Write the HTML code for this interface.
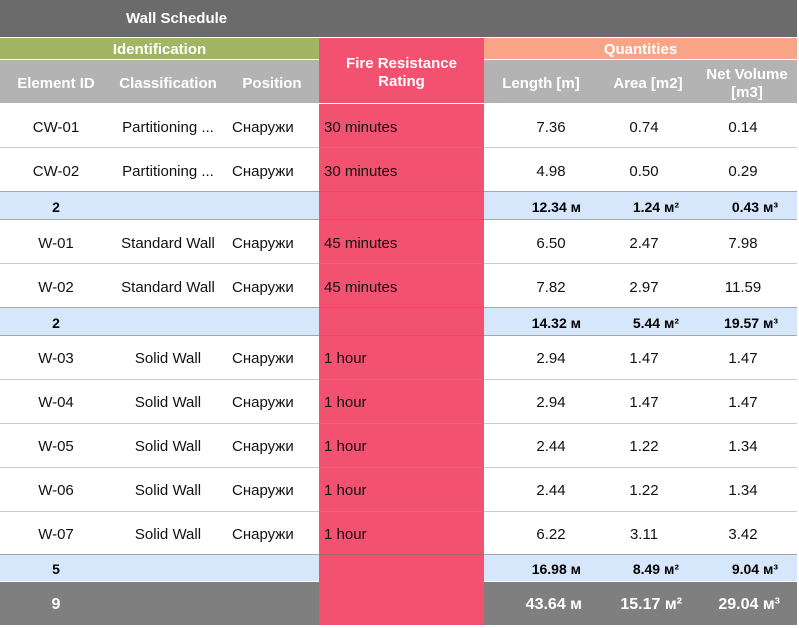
<!DOCTYPE html>
<html><head><meta charset="utf-8">
<style>
html,body{margin:0;padding:0;background:#fff;}
body{width:799px;height:628px;position:relative;overflow:hidden;font-family:"Liberation Sans",Arial,sans-serif;}
.b{position:absolute;}
.t{position:absolute;white-space:nowrap;color:#111;font-size:15px;}
.c{text-align:center;}
.r{text-align:right;}
.h{color:#fff;font-weight:bold;font-size:15px;text-align:center;}
.ln{position:absolute;left:0;width:797px;height:1px;}
.lg{background:rgba(150,150,150,0.5);}
.ld{background:rgba(120,120,120,0.65);}
.s{font-weight:bold;font-size:14px;color:#000;}
.g{font-weight:bold;font-size:16px;color:#fff;}
</style></head><body>
<!-- title -->
<div class="b" style="left:0;top:0;width:797px;height:37px;background:#6b6b6b;"></div>
<div class="t h" style="left:126px;top:10px;line-height:18px;">Wall Schedule</div>

<!-- group headers -->
<div class="b" style="left:0;top:38px;width:319px;height:21px;background:#a3b465;"></div>
<div class="b" style="left:484px;top:38px;width:313px;height:21px;background:#f7a487;"></div>
<div class="b" style="left:319px;top:38px;width:165px;height:65px;background:#f2526f;"></div>
<div class="t h" style="left:0;width:319px;top:41px;line-height:18px;">Identification</div>
<div class="t h" style="left:484px;width:313px;top:41px;line-height:18px;">Quantities</div>

<!-- column header -->
<div class="b" style="left:0;top:60px;width:319px;height:43px;background:#b3b3b3;"></div>
<div class="b" style="left:484px;top:60px;width:313px;height:43px;background:#b3b3b3;"></div>
<div class="t h" style="left:0;width:112px;top:75px;line-height:18px;">Element ID</div>
<div class="t h" style="left:112px;width:112px;top:75px;line-height:18px;">Classification</div>
<div class="t h" style="left:225px;width:94px;top:75px;line-height:18px;">Position</div>
<div class="t h" style="left:319px;width:165px;top:55px;line-height:18px;">Fire Resistance<br>Rating</div>
<div class="t h" style="left:484px;width:114px;top:75px;line-height:18px;">Length [m]</div>
<div class="t h" style="left:598px;width:100px;top:75px;line-height:18px;">Area [m2]</div>
<div class="t h" style="left:698px;width:98px;top:66px;line-height:18px;">Net Volume<br>[m3]</div>

<!-- body backgrounds -->
<div class="b" style="left:319px;top:104px;width:165px;height:521px;background:#f2526f;"></div>
<div class="b" style="left:0;top:192px;width:319px;height:27px;background:#d7e7fb;"></div>
<div class="b" style="left:484px;top:192px;width:313px;height:27px;background:#d7e7fb;"></div>
<div class="b" style="left:0;top:308px;width:319px;height:27px;background:#d7e7fb;"></div>
<div class="b" style="left:484px;top:308px;width:313px;height:27px;background:#d7e7fb;"></div>
<div class="b" style="left:0;top:555px;width:319px;height:26px;background:#d7e7fb;"></div>
<div class="b" style="left:484px;top:555px;width:313px;height:26px;background:#d7e7fb;"></div>
<div class="b" style="left:0;top:582px;width:319px;height:43px;background:#7f7f7f;"></div>
<div class="b" style="left:484px;top:582px;width:313px;height:43px;background:#7f7f7f;"></div>

<!-- lines -->
<div class="ln lg" style="top:147px;"></div>
<div class="ln ld" style="top:191px;"></div>
<div class="ln ld" style="top:219px;"></div>
<div class="ln lg" style="top:263px;"></div>
<div class="ln ld" style="top:307px;"></div>
<div class="ln ld" style="top:335px;"></div>
<div class="ln lg" style="top:379px;"></div>
<div class="ln lg" style="top:423px;"></div>
<div class="ln lg" style="top:467px;"></div>
<div class="ln lg" style="top:511px;"></div>
<div class="ln ld" style="top:554px;"></div>

<div class="t c" style="left:0;width:112px;top:119px;line-height:18px;">CW-01</div>
<div class="t c" style="left:112px;width:112px;top:119px;line-height:18px;">Partitioning ...</div>
<div class="t" style="left:232px;top:119px;line-height:18px;">Снаружи</div>
<div class="t" style="left:324px;top:119px;line-height:18px;">30 minutes</div>
<div class="t c" style="left:501px;width:100px;top:119px;line-height:18px;">7.36</div>
<div class="t c" style="left:594px;width:100px;top:119px;line-height:18px;">0.74</div>
<div class="t c" style="left:693px;width:100px;top:119px;line-height:18px;">0.14</div>

<div class="t c" style="left:0;width:112px;top:163px;line-height:18px;">CW-02</div>
<div class="t c" style="left:112px;width:112px;top:163px;line-height:18px;">Partitioning ...</div>
<div class="t" style="left:232px;top:163px;line-height:18px;">Снаружи</div>
<div class="t" style="left:324px;top:163px;line-height:18px;">30 minutes</div>
<div class="t c" style="left:501px;width:100px;top:163px;line-height:18px;">4.98</div>
<div class="t c" style="left:594px;width:100px;top:163px;line-height:18px;">0.50</div>
<div class="t c" style="left:693px;width:100px;top:163px;line-height:18px;">0.29</div>

<div class="t c s" style="left:0;width:112px;top:198px;line-height:18px;">2</div>
<div class="t r s" style="left:481px;width:100px;top:198px;line-height:18px;">12.34 м</div>
<div class="t r s" style="left:579px;width:100px;top:198px;line-height:18px;">1.24 м²</div>
<div class="t r s" style="left:678px;width:100px;top:198px;line-height:18px;">0.43 м³</div>

<div class="t c" style="left:0;width:112px;top:235px;line-height:18px;">W-01</div>
<div class="t c" style="left:112px;width:112px;top:235px;line-height:18px;">Standard Wall</div>
<div class="t" style="left:232px;top:235px;line-height:18px;">Снаружи</div>
<div class="t" style="left:324px;top:235px;line-height:18px;">45 minutes</div>
<div class="t c" style="left:501px;width:100px;top:235px;line-height:18px;">6.50</div>
<div class="t c" style="left:594px;width:100px;top:235px;line-height:18px;">2.47</div>
<div class="t c" style="left:693px;width:100px;top:235px;line-height:18px;">7.98</div>

<div class="t c" style="left:0;width:112px;top:279px;line-height:18px;">W-02</div>
<div class="t c" style="left:112px;width:112px;top:279px;line-height:18px;">Standard Wall</div>
<div class="t" style="left:232px;top:279px;line-height:18px;">Снаружи</div>
<div class="t" style="left:324px;top:279px;line-height:18px;">45 minutes</div>
<div class="t c" style="left:501px;width:100px;top:279px;line-height:18px;">7.82</div>
<div class="t c" style="left:594px;width:100px;top:279px;line-height:18px;">2.97</div>
<div class="t c" style="left:693px;width:100px;top:279px;line-height:18px;">11.59</div>

<div class="t c s" style="left:0;width:112px;top:314px;line-height:18px;">2</div>
<div class="t r s" style="left:481px;width:100px;top:314px;line-height:18px;">14.32 м</div>
<div class="t r s" style="left:579px;width:100px;top:314px;line-height:18px;">5.44 м²</div>
<div class="t r s" style="left:678px;width:100px;top:314px;line-height:18px;">19.57 м³</div>

<div class="t c" style="left:0;width:112px;top:350px;line-height:18px;">W-03</div>
<div class="t c" style="left:112px;width:112px;top:350px;line-height:18px;">Solid Wall</div>
<div class="t" style="left:232px;top:350px;line-height:18px;">Снаружи</div>
<div class="t" style="left:324px;top:350px;line-height:18px;">1 hour</div>
<div class="t c" style="left:501px;width:100px;top:350px;line-height:18px;">2.94</div>
<div class="t c" style="left:594px;width:100px;top:350px;line-height:18px;">1.47</div>
<div class="t c" style="left:693px;width:100px;top:350px;line-height:18px;">1.47</div>

<div class="t c" style="left:0;width:112px;top:394px;line-height:18px;">W-04</div>
<div class="t c" style="left:112px;width:112px;top:394px;line-height:18px;">Solid Wall</div>
<div class="t" style="left:232px;top:394px;line-height:18px;">Снаружи</div>
<div class="t" style="left:324px;top:394px;line-height:18px;">1 hour</div>
<div class="t c" style="left:501px;width:100px;top:394px;line-height:18px;">2.94</div>
<div class="t c" style="left:594px;width:100px;top:394px;line-height:18px;">1.47</div>
<div class="t c" style="left:693px;width:100px;top:394px;line-height:18px;">1.47</div>

<div class="t c" style="left:0;width:112px;top:438px;line-height:18px;">W-05</div>
<div class="t c" style="left:112px;width:112px;top:438px;line-height:18px;">Solid Wall</div>
<div class="t" style="left:232px;top:438px;line-height:18px;">Снаружи</div>
<div class="t" style="left:324px;top:438px;line-height:18px;">1 hour</div>
<div class="t c" style="left:501px;width:100px;top:438px;line-height:18px;">2.44</div>
<div class="t c" style="left:594px;width:100px;top:438px;line-height:18px;">1.22</div>
<div class="t c" style="left:693px;width:100px;top:438px;line-height:18px;">1.34</div>

<div class="t c" style="left:0;width:112px;top:482px;line-height:18px;">W-06</div>
<div class="t c" style="left:112px;width:112px;top:482px;line-height:18px;">Solid Wall</div>
<div class="t" style="left:232px;top:482px;line-height:18px;">Снаружи</div>
<div class="t" style="left:324px;top:482px;line-height:18px;">1 hour</div>
<div class="t c" style="left:501px;width:100px;top:482px;line-height:18px;">2.44</div>
<div class="t c" style="left:594px;width:100px;top:482px;line-height:18px;">1.22</div>
<div class="t c" style="left:693px;width:100px;top:482px;line-height:18px;">1.34</div>

<div class="t c" style="left:0;width:112px;top:526px;line-height:18px;">W-07</div>
<div class="t c" style="left:112px;width:112px;top:526px;line-height:18px;">Solid Wall</div>
<div class="t" style="left:232px;top:526px;line-height:18px;">Снаружи</div>
<div class="t" style="left:324px;top:526px;line-height:18px;">1 hour</div>
<div class="t c" style="left:501px;width:100px;top:526px;line-height:18px;">6.22</div>
<div class="t c" style="left:594px;width:100px;top:526px;line-height:18px;">3.11</div>
<div class="t c" style="left:693px;width:100px;top:526px;line-height:18px;">3.42</div>

<div class="t c s" style="left:0;width:112px;top:560px;line-height:18px;">5</div>
<div class="t r s" style="left:481px;width:100px;top:560px;line-height:18px;">16.98 м</div>
<div class="t r s" style="left:579px;width:100px;top:560px;line-height:18px;">8.49 м²</div>
<div class="t r s" style="left:678px;width:100px;top:560px;line-height:18px;">9.04 м³</div>

<div class="t c g" style="left:0;width:112px;top:595px;line-height:20px;">9</div>
<div class="t r g" style="left:482px;width:100px;top:595px;line-height:20px;">43.64 м</div>
<div class="t r g" style="left:582px;width:100px;top:595px;line-height:20px;">15.17 м²</div>
<div class="t r g" style="left:680px;width:100px;top:595px;line-height:20px;">29.04 м³</div>
</body></html>
